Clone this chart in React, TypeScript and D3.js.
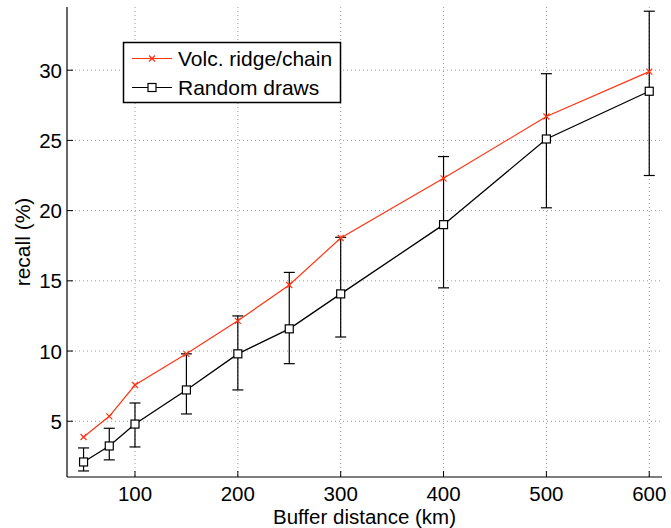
import React from "react";
import * as d3 from "d3";

const buffers = [50, 75, 100, 150, 200, 250, 300, 400, 500, 600];
const volcRecall = [3.88, 5.35, 7.58, 9.8, 12.15, 14.7, 18.05, 22.3, 26.7, 29.9];
const randomRecall = [2.1, 3.24, 4.8, 7.23, 9.8, 11.58, 14.07, 19.0, 25.1, 28.5];
const randomUpper = [3.1, 4.5, 6.3, 9.8, 12.5, 15.6, 18.1, 23.85, 29.75, 34.2];
const randomLower = [1.46, 2.25, 3.17, 5.52, 7.23, 9.1, 11.0, 14.5, 20.2, 22.5];
const xTicks = [100, 200, 300, 400, 500, 600];
const yTicks = [5, 10, 15, 20, 25, 30];
const seriesNames = ["Volc. ridge/chain", "Random draws"];

const W = 671;
const H = 528;
const left = 67;
const right = 662;
const top = 7;
const bottom = 477;
const RED = "#ff3514";
const FONT = "'Liberation Sans', Arial, Helvetica, sans-serif";

export default function App() {
  const x = d3.scaleLinear().domain([33.9, 612.4]).range([left, right]);
  const y = d3.scaleLinear().domain([1.03, 34.5]).range([bottom, top]);
  const line = d3
    .line<[number, number]>()
    .x((d) => x(d[0]))
    .y((d) => y(d[1]));
  const volcPts = buffers.map((b, i) => [b, volcRecall[i]] as [number, number]);
  const randPts = buffers.map((b, i) => [b, randomRecall[i]] as [number, number]);
  const cap = 5.5;
  const m = 4;

  return (
    <svg
      width={W}
      height={H}
      style={{ position: "absolute", left: 0, top: 0, background: "#fff" }}
      fontFamily={FONT}
    >
      {/* grid */}
      {xTicks.map((t) => (
        <line key={"gx" + t} x1={x(t)} x2={x(t)} y1={top} y2={bottom} stroke="#9a9a9a" strokeWidth={1} strokeDasharray="1,3" />
      ))}
      {yTicks.map((t) => (
        <line key={"gy" + t} x1={left} x2={right} y1={y(t)} y2={y(t)} stroke="#9a9a9a" strokeWidth={1} strokeDasharray="1,3" />
      ))}
      {/* axes */}
      <line x1={left} x2={left} y1={top} y2={bottom} stroke="#000" strokeWidth={1.2} />
      <line x1={left} x2={right} y1={bottom} y2={bottom} stroke="#000" strokeWidth={1.2} />
      {xTicks.map((t) => (
        <g key={"xt" + t}>
          <line x1={x(t)} x2={x(t)} y1={bottom} y2={bottom - 6} stroke="#000" strokeWidth={1} />
          <text x={x(t)} y={500.5} textAnchor="middle" fontSize={20.5}>{t}</text>
        </g>
      ))}
      {yTicks.map((t) => (
        <g key={"yt" + t}>
          <line x1={left} x2={left + 6} y1={y(t)} y2={y(t)} stroke="#000" strokeWidth={1} />
          <text x={62} y={y(t) + 7.5} textAnchor="end" fontSize={20.5}>{t}</text>
        </g>
      ))}
      <text x={(left + right) / 2} y={523.5} textAnchor="middle" fontSize={20.5}>Buffer distance (km)</text>
      <text transform={`translate(30,${(top + bottom) / 2}) rotate(-90)`} textAnchor="middle" fontSize={21}>recall (%)</text>

      {/* error bars */}
      {buffers.map((b, i) => (
        <g key={"eb" + b} stroke="#000" strokeWidth={1.2}>
          <line x1={x(b)} x2={x(b)} y1={y(randomLower[i])} y2={y(randomUpper[i])} />
          <line x1={x(b) - cap} x2={x(b) + cap} y1={y(randomLower[i])} y2={y(randomLower[i])} />
          <line x1={x(b) - cap} x2={x(b) + cap} y1={y(randomUpper[i])} y2={y(randomUpper[i])} />
        </g>
      ))}
      <path d={line(randPts) || ""} fill="none" stroke="#000" strokeWidth={1.3} />
      {randPts.map((p) => (
        <rect key={"sq" + p[0]} x={x(p[0]) - m} y={y(p[1]) - m} width={2 * m} height={2 * m} fill="#fff" stroke="#000" strokeWidth={1.2} />
      ))}
      <path d={line(volcPts) || ""} fill="none" stroke={RED} strokeWidth={1.2} />
      {volcPts.map((p) => (
        <g key={"x" + p[0]} stroke={RED} strokeWidth={1.2}>
          <line x1={x(p[0]) - 3} x2={x(p[0]) + 3} y1={y(p[1]) - 3} y2={y(p[1]) + 3} />
          <line x1={x(p[0]) - 3} x2={x(p[0]) + 3} y1={y(p[1]) + 3} y2={y(p[1]) - 3} />
        </g>
      ))}

      {/* legend */}
      <rect x={123.5} y={42.5} width={217} height={60} fill="#fff" stroke="#000" strokeWidth={1.5} />
      <line x1={132} x2={172} y1={58.5} y2={58.5} stroke={RED} strokeWidth={1.2} />
      <g stroke={RED} strokeWidth={1.2}>
        <line x1={149} x2={155} y1={55.5} y2={61.5} />
        <line x1={149} x2={155} y1={61.5} y2={55.5} />
      </g>
      <text x={178} y={66} fontSize={21}>{seriesNames[0]}</text>
      <line x1={132} x2={172} y1={87.5} y2={87.5} stroke="#000" strokeWidth={1.2} />
      <rect x={148} y={83.5} width={8} height={8} fill="#fff" stroke="#000" strokeWidth={1.2} />
      <text x={178} y={95} fontSize={21}>{seriesNames[1]}</text>
    </svg>
  );
}
